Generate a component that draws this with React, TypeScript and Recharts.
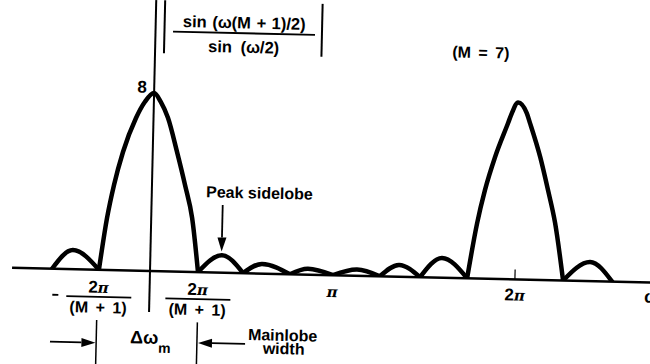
import React from 'react';
import { LineChart, Line, XAxis, YAxis, ReferenceLine, ReferenceDot } from 'recharts';

// ---- data (omega in units of pi, magnitude) ----
const omega = [
  -0.537, -0.425, -0.28,
  -0.242, -0.208, -0.163, -0.096, -0.049, 0, 0.037, 0.079, 0.133, 0.181, 0.224, 0.263,
  0.392, 0.51,
  0.613, 0.767,
  0.865, 1.003,
  1.134, 1.26,
  1.364, 1.48,
  1.598, 1.738,
  1.786, 1.825, 1.876, 1.943, 1.962, 1.995, 2.044, 2.063, 2.123, 2.17, 2.213, 2.264,
  2.41, 2.533,
];
const magnitude = [
  0, 0.86, 0,
  2.34, 3.83, 5.32, 6.86, 7.6, 8, 7.62, 6.9, 5.38, 3.9, 2.43, 0,
  0.78, 0,
  0.43, 0,
  0.26, 0,
  0.28, 0,
  0.53, 0,
  0.89, 0,
  2.49, 3.99, 5.48, 7.02, 7.46, 7.95, 7.48, 7.04, 5.53, 4.05, 2.58, 0,
  0.86, 0,
];

const tickValues = [-0.28, 0.263, 1, 2, 2.71];
const tickKinds = ['negfrac', 'frac', 'pi', '2pi', 'omega'];
const widthMarkers = [-0.286, 0.266];
const peakLabel = 'Peak sidelobe';
const mLabel = '(M = 7)';
const peakValueLabel = '8';
const numerator = 'sin (ω(M + 1)/2)';
const denominator = 'sin (ω/2)';

// ---- geometry ----
const X_DOMAIN: [number, number] = [-0.756, 2.8];
const Y_DOMAIN: [number, number] = [0, 12];
const PX_PER_PI = 182.5;
const PX_PER_UNIT = 22.25;
const ORIGIN = { x: 150, y: 271 };
const CHART_W = 700;
const CHART_H = 400;
const AXIS_H = 30;
const plotW = (X_DOMAIN[1] - X_DOMAIN[0]) * PX_PER_PI;
const plotH = (Y_DOMAIN[1] - Y_DOMAIN[0]) * PX_PER_UNIT;
const mLeft = ORIGIN.x + X_DOMAIN[0] * PX_PER_PI;
const mTop = ORIGIN.y - plotH;
const margin = {
  left: mLeft,
  top: mTop,
  right: CHART_W - mLeft - plotW,
  bottom: CHART_H - mTop - plotH - AXIS_H,
};

const FONT = '"Liberation Sans", Arial, Helvetica, sans-serif';
const PI_FONT = '"DejaVu Serif", "Liberation Serif", serif';
const txt = { fontFamily: FONT, fontWeight: 700, fontSize: 16, fill: '#000' } as const;

// split curve into lobes at zeros
const lobes: { w: number; v: number }[][] = [];
{
  let cur: { w: number; v: number }[] = [];
  omega.forEach((w, i) => {
    const p = { w, v: magnitude[i] };
    cur.push(p);
    if (magnitude[i] === 0 && cur.length > 1) {
      lobes.push(cur);
      cur = [p];
    }
  });
}

const Pi = () => (
  <tspan fontFamily={PI_FONT} fontStyle="italic" fontWeight={700} fontSize={15}>π</tspan>
);

const renderTick = (props: any) => {
  const { x, y, payload } = props;
  const idx = tickValues.indexOf(payload.value);
  const kind = tickKinds[idx];
  if (kind === 'negfrac' || kind === 'frac') {
    return (
      <g>
        {kind === 'negfrac' && (
          <line x1={x - 46} x2={x - 40} y1={y + 26} y2={y + 26} stroke="#000" strokeWidth={1.8} />
        )}
        <text x={x} y={y + 23} textAnchor="middle" style={{ ...txt, fontSize: 17 }}>
          2<Pi />
        </text>
        <line x1={x - 32} x2={x + 33} y1={y + 27} y2={y + 27} stroke="#000" strokeWidth={1.8} />
        <text x={x} y={y + 43} textAnchor="middle" style={{ ...txt, wordSpacing: 3 }}>
          (M + 1)
        </text>
      </g>
    );
  }
  if (kind === 'pi') {
    return (
      <text x={x} y={y + 22} textAnchor="middle" style={txt}>
        <Pi />
      </text>
    );
  }
  if (kind === '2pi') {
    return (
      <text x={x} y={y + 21} textAnchor="middle" style={{ ...txt, fontSize: 17 }}>
        2<Pi />
      </text>
    );
  }
  return (
    <text x={x} y={y + 20} textAnchor="start" style={{ ...txt, fontSize: 18 }}>
      ω
    </text>
  );
};

const arrowShape = (p: any) => {
  const { x1, y1, x2, y2 } = p;
  const dx = x2 - x1;
  const dy = y2 - y1;
  const len = Math.sqrt(dx * dx + dy * dy) || 1;
  const ux = dx / len;
  const uy = dy / len;
  const hl = 14;
  const hw = 4.5;
  const bx = x2 - ux * hl;
  const by = y2 - uy * hl;
  const pts = `${x2},${y2} ${bx - uy * hw},${by + ux * hw} ${bx + uy * hw},${by - ux * hw}`;
  return (
    <g>
      <line x1={x1} y1={y1} x2={bx} y2={by} stroke="#000" strokeWidth={1.8} />
      <polygon points={pts} fill="#000" />
    </g>
  );
};

const arrows = [
  { from: { x: 0.39, y: 3.04 }, to: { x: 0.39, y: 0.95 } },
  { from: { x: -0.539, y: -3.28 }, to: { x: -0.29, y: -3.28 } },
  { from: { x: 0.53, y: -3.18 }, to: { x: 0.272, y: -3.18 } },
];

export default function App() {
  return (
    <div
      style={{
        position: 'absolute',
        left: 0,
        top: 0,
        width: CHART_W,
        height: CHART_H,
        transform: 'rotate(1.32deg)',
        transformOrigin: `${ORIGIN.x}px ${ORIGIN.y}px`,
      }}
    >
      <LineChart width={CHART_W} height={CHART_H} margin={margin}>
        <XAxis
          type="number"
          dataKey="w"
          domain={X_DOMAIN}
          allowDataOverflow
          ticks={tickValues}
          interval={0}
          tickLine={false}
          tickSize={0}
          tickMargin={0}
          height={AXIS_H}
          axisLine={{ stroke: '#000', strokeWidth: 2.5 }}
          tick={renderTick}
        />
        <YAxis hide type="number" domain={Y_DOMAIN} allowDataOverflow />

        {/* vertical axis */}
        <ReferenceLine
          segment={[{ x: 0, y: -1.84 }, { x: 0, y: 12.9 }]}
          stroke="#000"
          strokeWidth={2}
          ifOverflow="visible"
        />
        {/* |.| bars of the formula */}
        <ReferenceLine segment={[{ x: 0.049, y: 9.8 }, { x: 0.049, y: 12.9 }]} stroke="#000" strokeWidth={2} ifOverflow="visible" />
        <ReferenceLine segment={[{ x: 0.912, y: 9.8 }, { x: 0.912, y: 12.9 }]} stroke="#000" strokeWidth={2} ifOverflow="visible" />
        {/* 2pi tick */}
        <ReferenceLine segment={[{ x: 2, y: 0 }, { x: 2, y: 0.45 }]} stroke="#000" strokeWidth={1.2} ifOverflow="visible" />
        {/* mainlobe width markers */}
        {widthMarkers.map((m) => (
          <ReferenceLine key={m} segment={[{ x: m, y: -2.26 }, { x: m, y: -4.8 }]} stroke="#000" strokeWidth={1.5} ifOverflow="visible" />
        ))}
        {arrows.map((a, i) => (
          <ReferenceLine key={'a' + i} segment={[a.from, a.to]} ifOverflow="visible" shape={arrowShape} />
        ))}

        {lobes.map((seg, i) => (
          <Line
            key={i}
            data={seg}
            dataKey="v"
            type="monotone"
            dot={false}
            stroke="#000"
            strokeWidth={4.5}
            strokeLinecap="round"
            isAnimationActive={false}
          />
        ))}

        {/* texts */}
        <ReferenceDot
          x={-0.067}
          y={8.25}
          r={0}
          ifOverflow="visible"
          shape={(p: any) => (
            <text x={p.cx} y={p.cy} textAnchor="middle" dominantBaseline="central" style={{ ...txt, fontSize: 17 }}>
              {peakValueLabel}
            </text>
          )}
        />
        <ReferenceDot
          x={0.485}
          y={10.78}
          r={0}
          ifOverflow="visible"
          shape={(p: any) => (
            <g>
              <text x={p.cx} y={p.cy - 10.8} textAnchor="middle" dominantBaseline="central" style={{ ...txt, fontSize: 16.5, wordSpacing: 1 }}>
                {numerator}
              </text>
              <line x1={p.cx - 71} x2={p.cx + 71} y1={p.cy} y2={p.cy} stroke="#000" strokeWidth={1.8} />
              <text x={p.cx} y={p.cy + 13.5} textAnchor="middle" dominantBaseline="central" style={{ ...txt, fontSize: 16.5, wordSpacing: 4 }}>
                {denominator}
              </text>
            </g>
          )}
        />
        <ReferenceDot
          x={1.785}
          y={10.16}
          r={0}
          ifOverflow="visible"
          shape={(p: any) => (
            <text x={p.cx} y={p.cy} textAnchor="middle" dominantBaseline="central" style={{ ...txt, wordSpacing: 3 }}>
              {mLabel}
            </text>
          )}
        />
        <ReferenceDot
          x={0.59}
          y={3.62}
          r={0}
          ifOverflow="visible"
          shape={(p: any) => (
            <text x={p.cx} y={p.cy} textAnchor="middle" dominantBaseline="central" style={txt}>
              {peakLabel}
            </text>
          )}
        />
        <ReferenceDot
          x={-0.1}
          y={-3.27}
          r={0}
          ifOverflow="visible"
          shape={(p: any) => (
            <text x={p.cx} y={p.cy} textAnchor="start" style={{ ...txt, fontSize: 18 }}>
              Δω
              <tspan dy={8.7} style={{ fontSize: 14 }}>m</tspan>
            </text>
          )}
        />
        <ReferenceDot
          x={0.735}
          y={-3.0}
          r={0}
          ifOverflow="visible"
          shape={(p: any) => (
            <text x={p.cx} y={p.cy} textAnchor="middle" style={txt}>
              Mainlobe
            </text>
          )}
        />
        <ReferenceDot
          x={0.742}
          y={-3.6}
          r={0}
          ifOverflow="visible"
          shape={(p: any) => (
            <text x={p.cx} y={p.cy} textAnchor="middle" style={txt}>
              width
            </text>
          )}
        />
      </LineChart>
    </div>
  );
}
